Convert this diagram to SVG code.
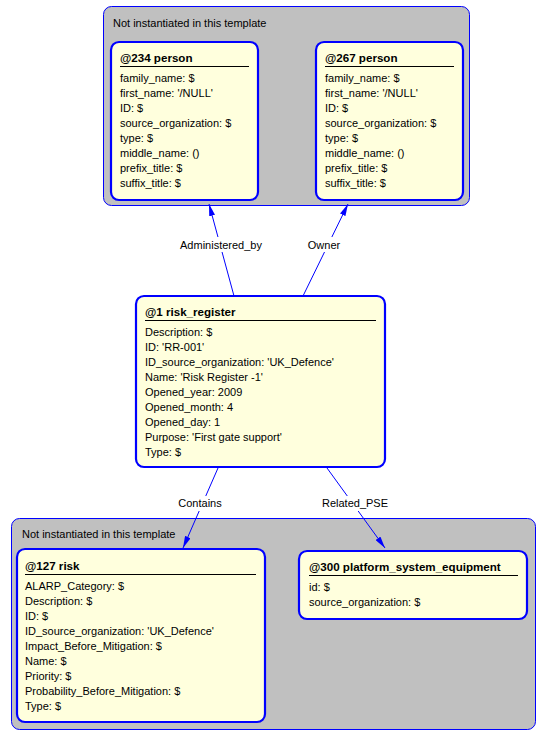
<svg xmlns="http://www.w3.org/2000/svg" width="542" height="738" viewBox="0 0 542 738">
<defs>
<style>
text{font-family:"Liberation Sans",Arial,sans-serif;font-size:11px;fill:#000}
.grp{fill:#C0C0C0;stroke:#0000FF;stroke-width:1}
.node{fill:#FFFFDD;stroke:#0000FF;stroke-width:2.2}
.title{font-weight:bold;font-size:11.6px}
.ul{stroke:#000;stroke-width:1}
.edge{stroke:#0000FF;stroke-width:1;fill:none}
.lblbg{fill:#FFFFFF}
.lbl{text-anchor:middle}
</style>
<marker id="arr" viewBox="0 0 12 6" refX="12" refY="3" markerWidth="12" markerHeight="6" markerUnits="userSpaceOnUse" orient="auto">
<path d="M0,0 L12,3 L0,6 Z" fill="#0000FF"/>
</marker>
</defs>
<g id="group-top">
<rect class="grp" x="103.5" y="6.5" width="366" height="199" rx="8"/>
<text x="113" y="27">Not instantiated in this template</text>
</g>
<g id="group-bottom">
<rect class="grp" x="11.5" y="518.5" width="524" height="211" rx="8"/>
<text x="22" y="538">Not instantiated in this template</text>
</g>
<g id="connectors">
<line class="edge" x1="234" y1="296" x2="209" y2="204" marker-end="url(#arr)"/>
<rect class="lblbg" x="181" y="237" width="80" height="15"/>
<text class="lbl" x="221" y="249">Administered_by</text>
<line class="edge" x1="303" y1="296" x2="348" y2="204" marker-end="url(#arr)"/>
<rect class="lblbg" x="307" y="237" width="35" height="15"/>
<text class="lbl" x="324" y="249">Owner</text>
<line class="edge" x1="218" y1="468" x2="183" y2="548" marker-end="url(#arr)"/>
<rect class="lblbg" x="178" y="496" width="44" height="15"/>
<text class="lbl" x="200" y="507">Contains</text>
<line class="edge" x1="327" y1="468" x2="385" y2="548" marker-end="url(#arr)"/>
<rect class="lblbg" x="321" y="496" width="68" height="15"/>
<text class="lbl" x="355" y="507">Related_PSE</text>
</g>
<g id="node-234">
<rect class="node" x="111" y="42" width="147" height="158" rx="8"/>
<text class="title" x="120" y="62">@234 person</text>
<line class="ul" x1="120" y1="66.5" x2="249" y2="66.5"/>
<text x="120" y="82">family_name: $</text>
<text x="120" y="97">first_name: '/NULL'</text>
<text x="120" y="112">ID: $</text>
<text x="120" y="127">source_organization: $</text>
<text x="120" y="142">type: $</text>
<text x="120" y="157">middle_name: ()</text>
<text x="120" y="172">prefix_title: $</text>
<text x="120" y="187">suffix_title: $</text>
</g>
<g id="node-267">
<rect class="node" x="316" y="42" width="147" height="158" rx="8"/>
<text class="title" x="325" y="62">@267 person</text>
<line class="ul" x1="325" y1="66.5" x2="454" y2="66.5"/>
<text x="325" y="82">family_name: $</text>
<text x="325" y="97">first_name: '/NULL'</text>
<text x="325" y="112">ID: $</text>
<text x="325" y="127">source_organization: $</text>
<text x="325" y="142">type: $</text>
<text x="325" y="157">middle_name: ()</text>
<text x="325" y="172">prefix_title: $</text>
<text x="325" y="187">suffix_title: $</text>
</g>
<g id="node-1">
<rect class="node" x="136" y="296" width="249" height="171" rx="8"/>
<text class="title" x="145" y="316">@1 risk_register</text>
<line class="ul" x1="145" y1="320.5" x2="376" y2="320.5"/>
<text x="145" y="336">Description: $</text>
<text x="145" y="351">ID: 'RR-001'</text>
<text x="145" y="366">ID_source_organization: 'UK_Defence'</text>
<text x="145" y="381">Name: 'Risk Register -1'</text>
<text x="145" y="396">Opened_year: 2009</text>
<text x="145" y="411">Opened_month: 4</text>
<text x="145" y="426">Opened_day: 1</text>
<text x="145" y="441">Purpose: 'First gate support'</text>
<text x="145" y="456">Type: $</text>
</g>
<g id="node-127">
<rect class="node" x="17" y="549" width="248" height="173" rx="8"/>
<text class="title" x="25" y="570">@127 risk</text>
<line class="ul" x1="25" y1="574.5" x2="256" y2="574.5"/>
<text x="25" y="590">ALARP_Category: $</text>
<text x="25" y="605">Description: $</text>
<text x="25" y="620">ID: $</text>
<text x="25" y="635">ID_source_organization: 'UK_Defence'</text>
<text x="25" y="650">Impact_Before_Mitigation: $</text>
<text x="25" y="665">Name: $</text>
<text x="25" y="680">Priority: $</text>
<text x="25" y="695">Probability_Before_Mitigation: $</text>
<text x="25" y="710">Type: $</text>
</g>
<g id="node-300">
<rect class="node" x="299" y="551" width="228" height="68" rx="8"/>
<text class="title" x="309" y="571">@300 platform_system_equipment</text>
<line class="ul" x1="309" y1="575.5" x2="518" y2="575.5"/>
<text x="309" y="591">id: $</text>
<text x="309" y="606">source_organization: $</text>
</g>
</svg>
